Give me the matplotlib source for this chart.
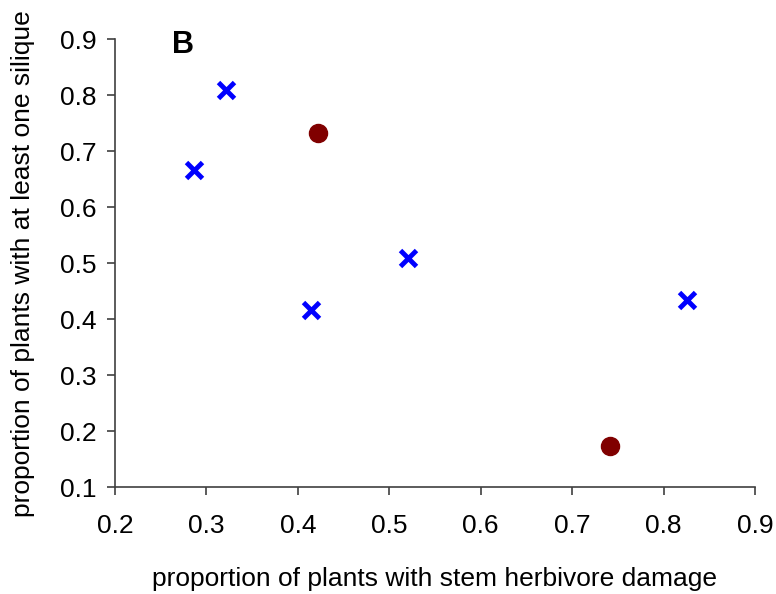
import matplotlib
matplotlib.use('Agg')
import matplotlib.pyplot as plt

plt.rcParams['font.family'] = ['Liberation Sans', 'DejaVu Sans']

# group 1 (blue crosses)
cross_x = [0.321, 0.286, 0.414, 0.521, 0.826]
cross_y = [0.809, 0.667, 0.417, 0.510, 0.434]
# group 2 (dark red circles)
circle_x = [0.422, 0.741]
circle_y = [0.732, 0.174]

fig = plt.figure(figsize=(7.76, 5.94), dpi=100)
ax = fig.add_axes([0.148, 0.1797, 0.825, 0.7541])

ax.plot(cross_x, cross_y, linestyle='none', marker='x', markersize=12,
        markeredgewidth=3.5, color='#0000ff', clip_on=False)
ax.plot(circle_x, circle_y, linestyle='none', marker='o', markersize=13,
        color='#800000', clip_on=False)

ax.set_xlim(0.2, 0.9)
ax.set_ylim(0.1, 0.9)
ax.set_xticks([0.2, 0.3, 0.4, 0.5, 0.6, 0.7, 0.8, 0.9])
ax.set_yticks([0.1, 0.2, 0.3, 0.4, 0.5, 0.6, 0.7, 0.8, 0.9])
ax.set_xticklabels(['0.2', '0.3', '0.4', '0.5', '0.6', '0.7', '0.8', '0.9'])
ax.set_yticklabels(['0.1', '0.2', '0.3', '0.4', '0.5', '0.6', '0.7', '0.8', '0.9'])

for side in ['top', 'right']:
    ax.spines[side].set_visible(False)
for side in ['left', 'bottom']:
    ax.spines[side].set_color('#404040')
    ax.spines[side].set_linewidth(1.2)
ax.tick_params(axis='x', direction='out', length=6, width=1.2, color='#404040',
               labelsize=19, pad=13)
ax.tick_params(axis='y', direction='out', length=6, width=1.2, color='#404040',
               labelsize=19, pad=7)

ax.set_xlabel('proportion of plants with stem herbivore damage', fontsize=19, labelpad=21)
ax.set_ylabel('proportion of plants with at least one silique', fontsize=19, labelpad=18)

ax.text(0.275, 0.89, 'B', fontsize=22, fontweight='bold', ha='center', va='center')

fig.savefig('out.png', dpi=100)
